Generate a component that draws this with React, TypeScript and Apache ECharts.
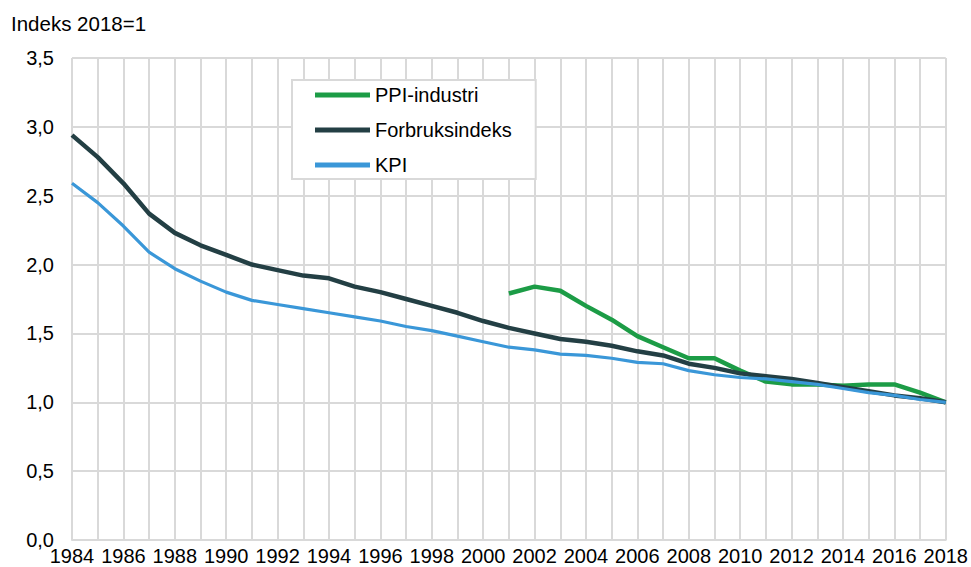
import React, { useEffect, useRef } from "react";
import * as echarts from "echarts";

const years: string[] = [];
for (let y = 1984; y <= 2018; y++) years.push(String(y));

const ppiIndustri: (number | null)[] = [
  null, null, null, null, null, null, null, null, null, null, null, null, null, null, null, null, null,
  1.79, 1.84, 1.81, 1.70, 1.60, 1.48, 1.40, 1.32, 1.32, 1.23, 1.15, 1.13, 1.13, 1.12, 1.13, 1.13, 1.07, 1.00,
];

const forbruksindeks: number[] = [
  2.94, 2.78, 2.59, 2.37, 2.23, 2.14, 2.07, 2.00, 1.96, 1.92, 1.90, 1.84, 1.80, 1.75, 1.70, 1.65,
  1.59, 1.54, 1.50, 1.46, 1.44, 1.41, 1.37, 1.34, 1.28, 1.25, 1.21, 1.19, 1.17, 1.14, 1.11, 1.08,
  1.05, 1.03, 1.00,
];

const kpi: number[] = [
  2.59, 2.45, 2.28, 2.09, 1.97, 1.88, 1.80, 1.74, 1.71, 1.68, 1.65, 1.62, 1.59, 1.55, 1.52, 1.48,
  1.44, 1.40, 1.38, 1.35, 1.34, 1.32, 1.29, 1.28, 1.23, 1.20, 1.18, 1.17, 1.15, 1.13, 1.10, 1.07,
  1.05, 1.02, 1.00,
];

const FONT = "'Liberation Sans', Arial, sans-serif";

export default function App() {
  const ref = useRef<HTMLDivElement>(null);
  useEffect(() => {
    if (!ref.current) return;
    const chart = echarts.init(ref.current, undefined, { renderer: "svg" });
    chart.setOption({
      animation: false,
      textStyle: { fontFamily: FONT },
      grid: { left: 72, right: 25, top: 58, bottom: 27, containLabel: false },
      graphic: [
        {
          type: "text",
          left: 11,
          top: 13,
          style: { text: "Indeks 2018=1", fontSize: 20.5, fontFamily: FONT, fill: "#000" },
        },
      ],
      legend: {
        orient: "vertical",
        left: 292,
        top: 80,
        padding: [5, 24, 4, 23],
        borderColor: "#d9d9d9",
        borderWidth: 2,
        backgroundColor: "#fff",
        icon: "rect",
        itemWidth: 55,
        itemHeight: 5,
        itemGap: 15,
        textStyle: { fontSize: 20, color: "#000", fontFamily: FONT },
        data: ["PPI-industri", "Forbruksindeks", "KPI"],
      },
      xAxis: {
        type: "category",
        data: years,
        boundaryGap: false,
        axisLine: { show: true, lineStyle: { color: "#d9d9d9", width: 2 } },
        axisTick: { show: false },
        axisLabel: { interval: 1, fontSize: 20, color: "#000", margin: 6, fontFamily: FONT },
        splitLine: { show: true, interval: 0, lineStyle: { color: "#d9d9d9", width: 2 } },
      },
      yAxis: {
        type: "value",
        min: 0,
        max: 3.5,
        interval: 0.5,
        axisLine: { show: false },
        axisTick: { show: false },
        axisLabel: {
          fontSize: 20,
          color: "#000",
          margin: 18,
          fontFamily: FONT,
          formatter: (v: number) => v.toFixed(1).replace(".", ","),
        },
        splitLine: { show: true, lineStyle: { color: "#d9d9d9", width: 2 } },
      },
      series: [
        {
          name: "PPI-industri",
          type: "line",
          data: ppiIndustri,
          symbol: "none",
          color: "#1c9c46",
          lineStyle: { width: 4.5, color: "#1c9c46" },
        },
        {
          name: "Forbruksindeks",
          type: "line",
          data: forbruksindeks,
          symbol: "none",
          color: "#233f44",
          lineStyle: { width: 4.5, color: "#233f44" },
        },
        {
          name: "KPI",
          type: "line",
          data: kpi,
          symbol: "none",
          color: "#3a97d8",
          lineStyle: { width: 3.2, color: "#3a97d8" },
        },
      ],
    });
    return () => chart.dispose();
  }, []);
  return <div ref={ref} style={{ width: 971, height: 567, position: "absolute", left: 0, top: 0 }} />;
}
